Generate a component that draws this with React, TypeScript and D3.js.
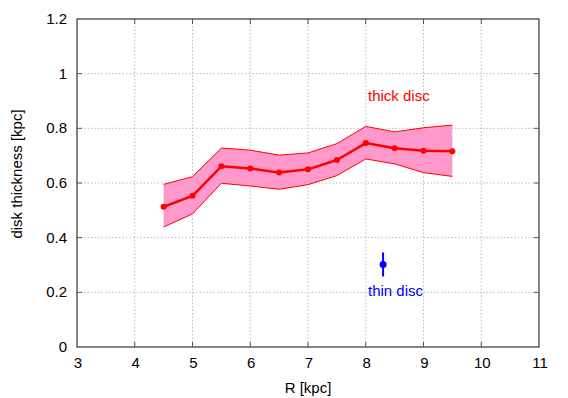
import React from "react";
import * as d3 from "d3";

const radius = [4.5, 5, 5.5, 6, 6.5, 7, 7.5, 8, 8.5, 9, 9.5];
const thickMean = [0.513, 0.553, 0.661, 0.653, 0.638, 0.65, 0.684, 0.746, 0.727, 0.718, 0.716];
const thickUpper = [0.595, 0.623, 0.728, 0.72, 0.702, 0.71, 0.744, 0.807, 0.787, 0.802, 0.812];
const thickLower = [0.439, 0.487, 0.599, 0.589, 0.577, 0.594, 0.627, 0.688, 0.67, 0.638, 0.624];
const thinR = [8.3];
const thinMean = [0.302];
const thinErr = [0.044];
const xTicks = [3, 4, 5, 6, 7, 8, 9, 10, 11];
const yTicks = [0, 0.2, 0.4, 0.6, 0.8, 1, 1.2];

const W = 568, H = 398;
const L = 77, R = 539, T = 19, B = 347;
const font = "'Liberation Sans', Arial, Helvetica, sans-serif";

export default function App() {
  const x = d3.scaleLinear().domain([3, 11]).range([L, R]);
  const y = d3.scaleLinear().domain([0, 1.2]).range([B, T]);
  const pts = radius.map((r, i) => ({ r, m: thickMean[i], u: thickUpper[i], l: thickLower[i] }));
  const area = d3.area<any>().x(d => x(d.r)).y0(d => y(d.l)).y1(d => y(d.u))(pts) || "";
  const upper = d3.line<any>().x(d => x(d.r)).y(d => y(d.u))(pts) || "";
  const lower = d3.line<any>().x(d => x(d.r)).y(d => y(d.l))(pts) || "";
  const mean = d3.line<any>().x(d => x(d.r)).y(d => y(d.m))(pts) || "";
  const yFmt = (v: number) => (v === 0 || v === 1 ? String(v) : v.toFixed(1));

  return (
    <svg width={W} height={H} style={{ position: "absolute", left: 0, top: 0, background: "#fff" }} fontFamily={font}>
      {/* grid */}
      {xTicks.slice(1, -1).map(t => (
        <line key={"gx" + t} x1={x(t)} x2={x(t)} y1={T} y2={B} stroke="#bbb" strokeWidth={1} strokeDasharray="1.5,2" />
      ))}
      {yTicks.slice(1, -1).map(t => (
        <line key={"gy" + t} x1={L} x2={R} y1={y(t)} y2={y(t)} stroke="#bbb" strokeWidth={1} strokeDasharray="1.5,2" />
      ))}
      {/* band */}
      <path d={area} fill="#ff99cc" stroke="none" />
      <path d={upper} fill="none" stroke="#ff0000" strokeWidth={1} />
      <path d={lower} fill="none" stroke="#ff0000" strokeWidth={1} />
      <path d={mean} fill="none" stroke="#ff0000" strokeWidth={2.5} strokeLinejoin="round" />
      {pts.map(p => (
        <circle key={"p" + p.r} cx={x(p.r)} cy={y(p.m)} r={3} fill="#ff0000" />
      ))}
      {/* thin disc */}
      {thinR.map((r, i) => (
        <g key={"thin" + i}>
          <line x1={x(r)} x2={x(r)} y1={y(thinMean[i] - thinErr[i])} y2={y(thinMean[i] + thinErr[i])} stroke="#0000ff" strokeWidth={2} />
          <circle cx={x(r)} cy={y(thinMean[i])} r={3.5} fill="#0000ff" />
        </g>
      ))}
      {/* border */}
      <rect x={L} y={T} width={R - L} height={B - T} fill="none" stroke="#333" strokeWidth={1.2} />
      {/* ticks */}
      {xTicks.slice(1, -1).map(t => (
        <g key={"tx" + t}>
          <line x1={x(t)} x2={x(t)} y1={B} y2={B - 5} stroke="#555" />
          <line x1={x(t)} x2={x(t)} y1={T} y2={T + 5} stroke="#555" />
        </g>
      ))}
      {yTicks.slice(1, -1).map(t => (
        <g key={"ty" + t}>
          <line x1={L} x2={L + 5} y1={y(t)} y2={y(t)} stroke="#555" />
          <line x1={R} x2={R - 5} y1={y(t)} y2={y(t)} stroke="#555" />
        </g>
      ))}
      {/* tick labels */}
      {xTicks.map(t => (
        <text key={"lx" + t} x={x(t) + 1} y={368} textAnchor="middle" fontSize={15} fill="#000">{t}</text>
      ))}
      {yTicks.map(t => (
        <text key={"ly" + t} x={L - 10} y={y(t) + 5} textAnchor="end" fontSize={15} fill="#000">{yFmt(t)}</text>
      ))}
      <text x={(L + R) / 2} y={393} textAnchor="middle" fontSize={15} fill="#000">R [kpc]</text>
      <text transform={`translate(22,174) rotate(-90)`} textAnchor="middle" fontSize={15} fill="#000">disk thickness [kpc]</text>
      <text x={368} y={101} fontSize={15} fill="#ff0000">thick disc</text>
      <text x={368} y={296} fontSize={15} fill="#0000ff">thin disc</text>
    </svg>
  );
}
